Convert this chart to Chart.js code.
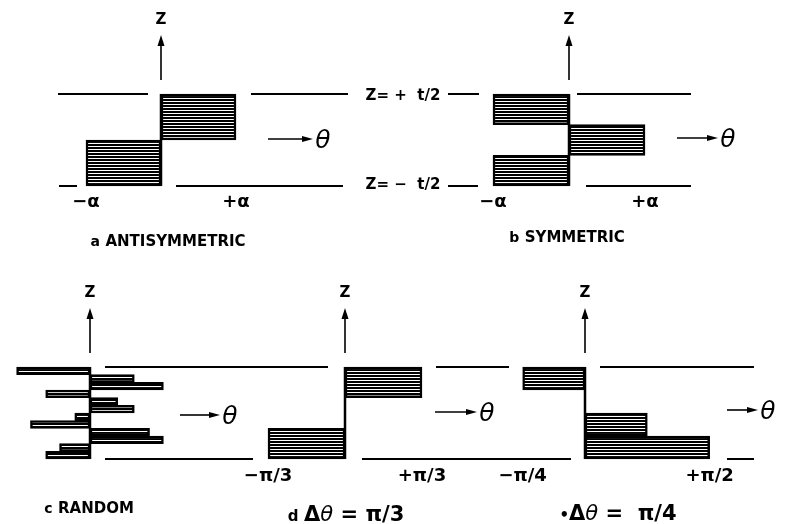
<!DOCTYPE html>
<html>
<head>
<meta charset="utf-8">
<script src="https://cdn.jsdelivr.net/npm/chart.js@4.4.1/dist/chart.umd.min.js"></script>
<style>
  html, body { margin: 0; padding: 0; background: #fff; }
  body { width: 787px; height: 524px; overflow: hidden; position: relative; font-family: "DejaVu Sans", sans-serif; color: #000; }
  canvas { position: absolute; left: 0; top: 0; }
  .t { position: absolute; white-space: pre; line-height: 1; transform: translate(-50%, -50%); font-weight: bold; }
  .th { font-style: italic; font-weight: normal; }
</style>
</head>
<body>
<canvas id="rowTop" width="787" height="524"></canvas>
<canvas id="rowBot" width="787" height="524"></canvas>
<script>
// ================= DATA =================
// ply angles listed from the top surface (z = +t/2) down to the bottom (z = -t/2)
const pliesA = ['1', '2'];
const thetaA = [1, -1];                       // units of α  (antisymmetric)
const pliesB = ['1', '2', '3'];
const thetaB = [-1, 1, -1];                   // units of α  (symmetric)
const pliesC = ['1','2','3','4','5','6','7','8','9','10','11','12'];
const thetaC = [-53, 32, 53, -32, 20, 32, -11, -43, 43, 53, -22, -32];  // degrees (random)
const pliesD = ['1', '2', '3'];
const thetaD = [60, 0, -60];                  // degrees, Δθ = π/3
const pliesE = ['1', '2', '3', '4'];
const thetaE = [-45, 0, 45, 90];              // degrees, Δθ = π/4

// angle tick labels under each panel
const tickValsA = [-1, 1];    const tickTextA = ['−α', '+α'];
const tickValsB = [-1, 1];    const tickTextB = ['−α', '+α'];
const tickValsC = [];         const tickTextC = [];
const tickValsD = [-60, 60];  const tickTextD = ['−π/3', '+π/3'];
const tickValsE = [-45, 90];  const tickTextE = ['−π/4', '+π/2'];

const surfaceLabels = ['Z= +  t/2', 'Z= −  t/2'];
const axisZ = 'Z';
const axisTheta = 'θ';

// ================= LAYOUT (positions / sizes only) =================
const W = 787, H = 524;
const rows = {
  top: { canvas: 'rowTop', top: 94, bottom: 186,
    segTop: [[58,148],[251,348],[448,479],[577,691]],
    segBot: [[59,77],[176,343],[448,478],[586,691]],
    tickY: 201 },
  bot: { canvas: 'rowBot', top: 367, bottom: 459,
    segTop: [[105,328],[436,509],[600,754]],
    segBot: [[105,253],[362,571],[727,754]],
    tickY: 475 }
};
// origin pixel of θ = 0 and pixels per unit of θ for each panel
const panels = [
  { id: 'a', row: 'top', plies: pliesA, theta: thetaA, ticks: tickValsA, tickText: tickTextA, x0: 161, k: 75,    arrow: [268, 313], dy: -1, caption: 'a', capX: 168, capY: 241 },
  { id: 'b', row: 'top', plies: pliesB, theta: thetaB, ticks: tickValsB, tickText: tickTextB, x0: 569, k: 76,    arrow: [677, 718], dy: -2, caption: 'b', capX: 567, capY: 237 },
  { id: 'c', row: 'bot', plies: pliesC, theta: thetaC, ticks: tickValsC, tickText: tickTextC, x0: 90,  k: 1.385, arrow: [180, 220], dy: 2,  caption: 'c', capX: 89,  capY: 508 },
  { id: 'd', row: 'bot', plies: pliesD, theta: thetaD, ticks: tickValsD, tickText: tickTextD, x0: 345, k: 1.283, arrow: [435, 477], dy: -1, caption: 'd', capX: 346, capY: 514 },
  { id: 'e', row: 'bot', plies: pliesE, theta: thetaE, ticks: tickValsE, tickText: tickTextE, x0: 585, k: 1.385, arrow: [727, 758], dy: -3, caption: 'e', capX: 618, capY: 513 }
];
const captionHTML = {
  a: '<span style="font-size:14px">a</span> <span style="font-size:15px">ANTISYMMETRIC</span>',
  b: '<span style="font-size:14px">b</span> <span style="font-size:15px">SYMMETRIC</span>',
  c: '<span style="font-size:14px">c</span> <span style="font-size:15px">RANDOM</span>',
  d: '<span style="font-size:15px">d</span> <span style="font-size:21px">Δ<span class="th">θ</span> = π/3</span>',
  e: '<span style="font-size:15px">•</span><span style="font-size:21px">Δ<span class="th">θ</span> =  π/4</span>'
};

// ================= HELPERS =================
function hatchPattern(ctx) {
  const tile = document.createElement('canvas');
  tile.width = 8; tile.height = 3;
  const g = tile.getContext('2d');
  g.fillStyle = '#fff'; g.fillRect(0, 0, 8, 3);
  g.fillStyle = '#000'; g.fillRect(0, 0, 8, 2);
  return ctx.createPattern(tile, 'repeat');
}
function addText(html, x, y, cls, style) {
  const d = document.createElement('div');
  d.className = 't' + (cls ? ' ' + cls : '');
  d.innerHTML = html;
  d.style.left = x + 'px';
  d.style.top = y + 'px';
  if (style) Object.assign(d.style, style);
  document.body.appendChild(d);
  return d;
}

const decor = {
  id: 'decor',
  afterDatasetsDraw(chart, args, opts) {
    const ctx = chart.ctx, a = chart.chartArea;
    const seg = (x1, y1, x2, y2) => { ctx.beginPath(); ctx.moveTo(x1, y1); ctx.lineTo(x2, y2); ctx.stroke(); };
    ctx.save();
    ctx.strokeStyle = '#000'; ctx.fillStyle = '#000';
    ctx.lineWidth = 2;
    // surfaces z = ±t/2
    opts.segTop.forEach(([x1, x2]) => seg(x1, a.top, x2, a.top));
    opts.segBot.forEach(([x1, x2]) => seg(x1, a.bottom, x2, a.bottom));
    opts.panels.forEach(p => {
      const x0 = Math.round(chart.scales['x' + p.id].getPixelForValue(0));
      // mid-plane axis through laminate
      ctx.lineWidth = 2.5;
      seg(x0, a.top, x0, a.bottom);
      // z arrow
      ctx.lineWidth = 1.6;
      const yT = a.top - 59, yB = a.top - 14;
      seg(x0, yB, x0, yT + 8);
      ctx.beginPath(); ctx.moveTo(x0, yT); ctx.lineTo(x0 - 3.5, yT + 11); ctx.lineTo(x0 + 3.5, yT + 11); ctx.closePath(); ctx.fill();
      // θ arrow
      const ym = Math.round((a.top + a.bottom) / 2) + p.dy;
      const [x1, x2] = p.arrow;
      seg(x1, ym, x2 - 8, ym);
      ctx.beginPath(); ctx.moveTo(x2, ym); ctx.lineTo(x2 - 11, ym - 3); ctx.lineTo(x2 - 11, ym + 3); ctx.closePath(); ctx.fill();
    });
    ctx.restore();
  }
};

function buildRow(key) {
  const row = rows[key];
  const cv = document.getElementById(row.canvas);
  const ctx = cv.getContext('2d');
  const pat = hatchPattern(ctx);
  const ps = panels.filter(p => p.row === key);
  const scales = {};
  const datasets = [];
  ps.forEach(p => {
    scales['x' + p.id] = { type: 'linear', display: false, bounds: 'data', min: -p.x0 / p.k, max: (W - p.x0) / p.k };
    scales['y' + p.id] = { type: 'category', display: false, labels: p.plies, offset: true };
    datasets.push({
      label: p.id,
      data: p.theta.map(v => [0, v]),
      xAxisID: 'x' + p.id,
      yAxisID: 'y' + p.id,
      backgroundColor: pat,
      borderColor: '#000',
      borderWidth: 2.5,
      borderSkipped: false,
      barPercentage: 1,
      categoryPercentage: 1,
      grouped: false,
      clip: false
    });
  });
  const chart = new Chart(ctx, {
    type: 'bar',
    data: { datasets },
    options: {
      indexAxis: 'y',
      responsive: false,
      animation: false,
      events: [],
      layout: { padding: { top: row.top, bottom: H - row.bottom, left: 0, right: 0 } },
      scales,
      plugins: {
        legend: { display: false },
        tooltip: { enabled: false },
        decor: { segTop: row.segTop, segBot: row.segBot, panels: ps }
      }
    },
    plugins: [decor]
  });
  // text placed through the chart's own scales
  const a = chart.chartArea;
  ps.forEach(p => {
    const xs = chart.scales['x' + p.id];
    const x0 = xs.getPixelForValue(0);
    addText(axisZ, x0, a.top - 75, '', { fontSize: '15px' });
    const ym = Math.round((a.top + a.bottom) / 2) + p.dy;
    addText(axisTheta, p.arrow[1] + 10, ym, 'th', { fontSize: '25px' });
    p.ticks.forEach((v, i) => addText(p.tickText[i], xs.getPixelForValue(v), row.tickY, '', { fontSize: '18px' }));
    addText(captionHTML[p.caption], p.capX, p.capY, '');
  });
  return chart;
}

buildRow('top');
buildRow('bot');
addText(surfaceLabels[0], 403, rows.top.top + 1, '', { fontSize: '15px' });
addText(surfaceLabels[1], 403, rows.top.bottom - 2, '', { fontSize: '15px' });
</script>
</body>
</html>
